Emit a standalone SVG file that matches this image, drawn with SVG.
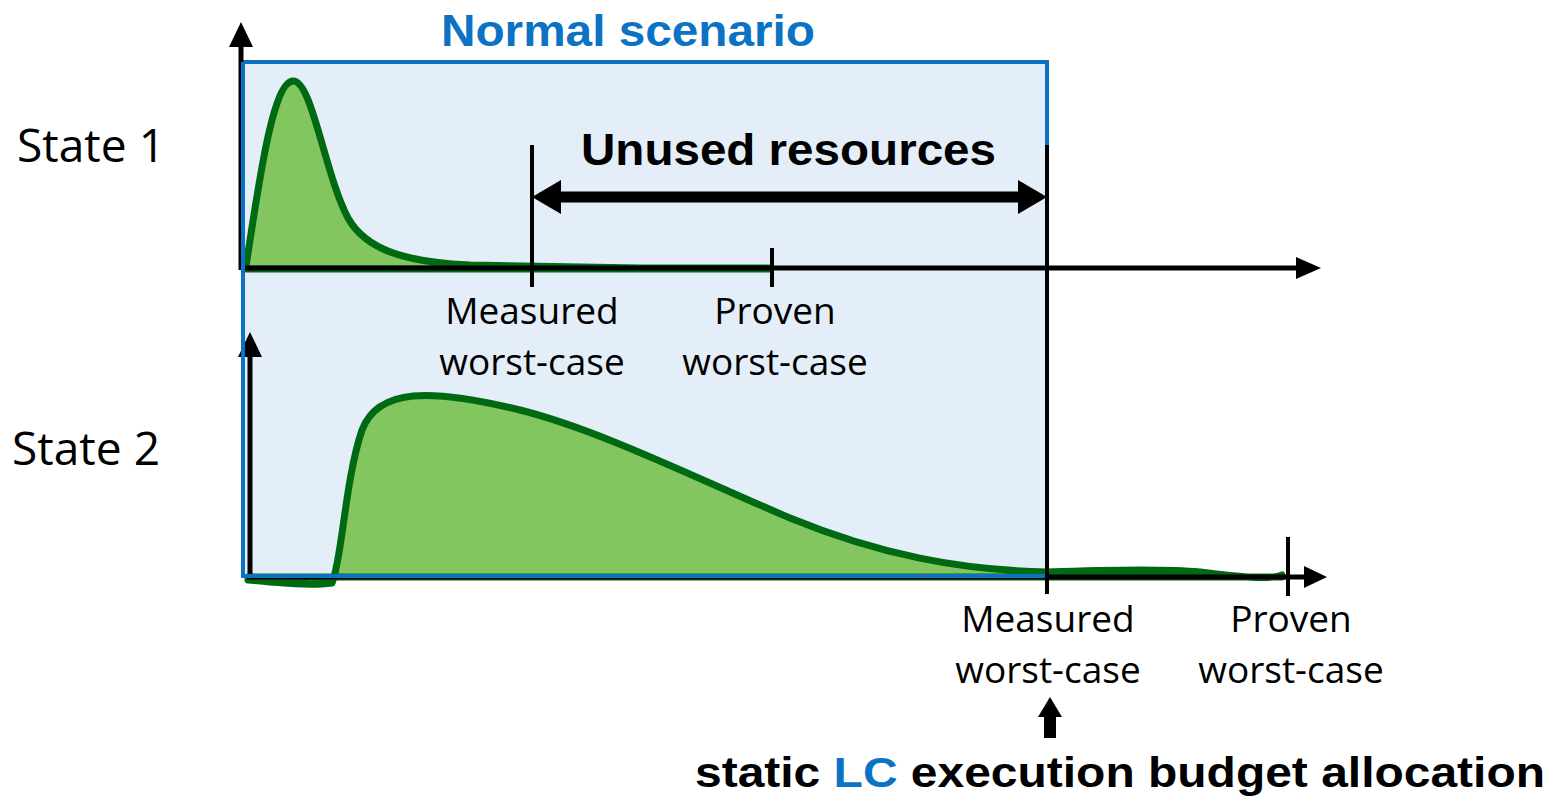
<svg xmlns="http://www.w3.org/2000/svg" width="1552" height="798" viewBox="0 0 1552 798">
  <style>
    .axis { stroke: #000; stroke-width: 5; fill: none; }
    .tick { stroke: #000; stroke-width: 4; fill: none; }
    .curve { fill: #83C55E; stroke: #006A12; stroke-width: 7; stroke-linejoin: round; stroke-linecap: round; }
    .lbl { font-family: "Open Sans", "Liberation Sans", sans-serif; font-size: 37px; fill: #000; text-anchor: middle; }
    .state { font-family: "Open Sans", "Liberation Sans", sans-serif; font-size: 46px; fill: #000; }
    .bold { font-family: "Liberation Sans", Arial, sans-serif; font-weight: bold; }
  </style>
  <rect width="1552" height="798" fill="#fff"/>

  <!-- normal scenario region -->
  <g id="normal-scenario">
    <rect x="243" y="62" width="804" height="514" fill="#E4EEF8" stroke="#0B72C4" stroke-width="4"/>
    <text class="bold" x="441" y="46" font-size="44" fill="#0B72C4" textLength="374" lengthAdjust="spacingAndGlyphs">Normal scenario</text>
  </g>

  <!-- state 1 distribution -->
  <g id="state1-curve">
    <path class="curve" d="M246,266 C258,190 272,82 293,81 C312,80 325,175 348,218 C366,250 405,262 470,265 L640,268 L770,268 L770,269 L246,269 Z"/>
  </g>

  <!-- state 2 distribution -->
  <g id="state2-curve">
    <path class="curve" d="M248,580 C280,583 310,586 332,583 C342,560 345,480 362,430 C378,388 430,388 520,410 C600,430 700,480 790,518 C880,555 960,570 1047,572 C1100,570 1160,568 1200,572 C1240,577 1270,580 1282,575 L1282,577 L248,577 Z"/>
  </g>

  <!-- axes -->
  <g id="axes">
    <line class="axis" x1="241" y1="270" x2="241" y2="42"/>
    <polygon points="241,22 229,47 253,47" fill="#000"/>
    <line class="axis" x1="241" y1="268" x2="1300" y2="268"/>
    <polygon points="1321,268 1296,257 1296,279" fill="#000"/>
    <line class="axis" x1="250" y1="576" x2="250" y2="352"/>
    <polygon points="250,332 238,357 262,357" fill="#000"/>
    <line class="axis" x1="247" y1="577" x2="1310" y2="577"/>
    <polygon points="1327,577 1304,566 1304,588" fill="#000"/>
  </g>

  <!-- blue frame edges drawn over the axes -->
  <g id="frame-edges">
    <line x1="243" y1="62" x2="243" y2="578" stroke="#0B72C4" stroke-width="4"/>
    <line x1="243" y1="576" x2="1047" y2="576" stroke="#0B72C4" stroke-width="4"/>
  </g>

  <!-- markers on the axes -->
  <g id="connectors">
    <line class="tick" x1="532" y1="145" x2="532" y2="287"/>
    <line class="tick" x1="772" y1="248" x2="772" y2="287"/>
    <line class="tick" x1="1047" y1="145" x2="1047" y2="594"/>
    <line class="tick" x1="1288" y1="537" x2="1288" y2="596"/>
    <!-- unused resources span -->
    <line x1="560" y1="197" x2="1020" y2="197" stroke="#000" stroke-width="11"/>
    <polygon points="532,197 561,180 561,214" fill="#000"/>
    <polygon points="1047,197 1018,180 1018,214" fill="#000"/>
    <!-- budget pointer -->
    <polygon points="1050,697 1038,717 1062,717" fill="#000"/>
    <rect x="1044" y="716" width="12" height="22" fill="#000"/>
  </g>

  <g id="labels">
    <text class="state" x="17" y="162" textLength="148" lengthAdjust="spacingAndGlyphs">State 1</text>
    <text class="state" x="12" y="465" textLength="148" lengthAdjust="spacingAndGlyphs">State 2</text>
    <text class="bold" x="581" y="165" font-size="44" textLength="415" lengthAdjust="spacingAndGlyphs">Unused resources</text>
    <text class="lbl" x="532" y="324">Measured</text>
    <text class="lbl" x="532" y="375">worst-case</text>
    <text class="lbl" x="775" y="324">Proven</text>
    <text class="lbl" x="775" y="375">worst-case</text>
    <text class="lbl" x="1048" y="632">Measured</text>
    <text class="lbl" x="1048" y="683">worst-case</text>
    <text class="lbl" x="1291" y="632">Proven</text>
    <text class="lbl" x="1291" y="683">worst-case</text>
    <text class="bold" x="695" y="787" font-size="42" textLength="850" lengthAdjust="spacingAndGlyphs">static <tspan fill="#0B72C4">LC</tspan> execution budget allocation</text>
  </g>
</svg>
